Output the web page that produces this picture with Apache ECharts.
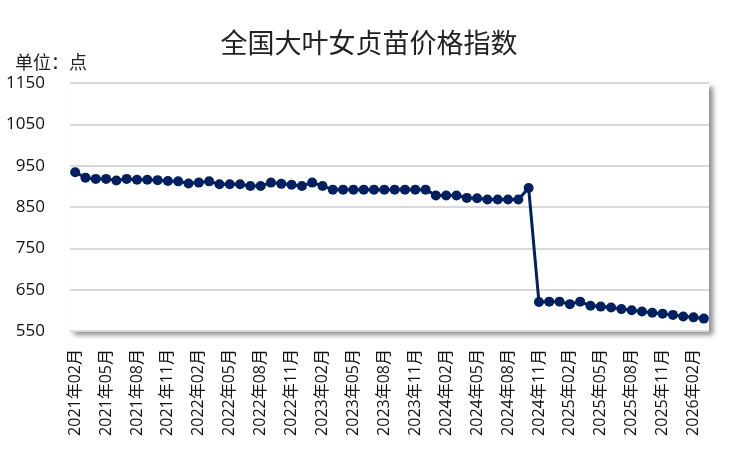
<!DOCTYPE html>
<html>
<head>
<meta charset="utf-8">
<script src="https://cdn.jsdelivr.net/npm/echarts@6/dist/echarts.min.js"></script>
<style>
  html, body { margin: 0; padding: 0; background: #fff; }
  #chart { width: 738px; height: 454px; }
</style>
</head>
<body>
<div id="chart"></div>
<script>
// 月份：2021年02月 ~ 2026年03月
const months = []
for (let y = 2021; y <= 2026; y++) {
  for (let m = 1; m <= 12; m++) {
    if ((y === 2021 && m < 2) || (y === 2026 && m > 3)) continue
    months.push(y + '年' + String(m).padStart(2, '0') + '月')
  }
}
const priceIndex = [
  934, 921, 918, 918, 914, 918, 916, 916, 915, 913,
  912, 907, 909, 912, 905, 905, 905, 901, 901, 909,
  906, 904, 901, 909, 901, 892, 892, 892, 892, 892,
  892, 892, 892, 892, 892, 878, 878, 878, 872, 871,
  868, 868, 868, 868, 896, 620, 621, 621, 615, 621,
  611, 609, 607, 603, 600, 597, 594, 592, 589, 585,
  583, 580
]
const yTicks = [550, 650, 750, 850, 950, 1050, 1150]

const chart = echarts.init(document.getElementById('chart'))
const font = '"Open Sans", "Noto Sans CJK SC", sans-serif'
const cjkFont = '"Noto Sans CJK SC", sans-serif'

const option = {
  animation: false,
  title: {
    text: '全国大叶女贞苗价格指数',
    left: 'center',
    top: 24,
    textStyle: { fontFamily: cjkFont, fontSize: 27, fontWeight: 'normal', color: '#222' }
  },
  grid: {
    left: 70,
    right: 29,
    top: 83,
    bottom: 123,
    show: true,
    backgroundColor: '#fff',
    borderWidth: 0,
    shadowColor: 'rgba(0,0,0,0.45)',
    shadowBlur: 5,
    shadowOffsetX: 4,
    shadowOffsetY: 4
  },
  xAxis: {
    type: 'category',
    data: months,
    boundaryGap: true,
    axisLine: { show: false },
    axisTick: { show: false },
    axisLabel: {
      interval: 2,
      rotate: 90,
      margin: 18,
      fontFamily: font,
      fontSize: 16,
      color: '#111'
    }
  },
  yAxis: {
    type: 'value',
    min: yTicks[0],
    max: yTicks[yTicks.length - 1],
    interval: 100,
    name: '单位：点',
    nameLocation: 'end',
    nameGap: 12,
    nameTextStyle: { fontFamily: cjkFont, fontSize: 18, color: '#222', align: 'left', padding: [0, 0, 0, -55] },
    axisLine: { show: false },
    axisTick: { show: false },
    axisLabel: {
      margin: 25,
      fontFamily: font,
      fontSize: 17,
      color: '#111',
      formatter: v => String(v)
    },
    splitLine: { lineStyle: { color: '#d9d9d9', width: 2 } }
  },
  series: [
    {
      type: 'line',
      data: priceIndex,
      symbol: 'circle',
      symbolSize: 10,
      showAllSymbol: true,
      lineStyle: { color: '#002060', width: 3 },
      itemStyle: { color: '#002060' }
    }
  ]
}
chart.setOption(option)
</script>
</body>
</html>
